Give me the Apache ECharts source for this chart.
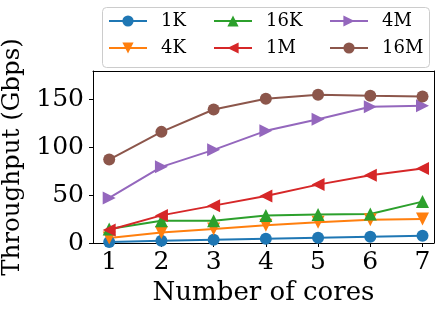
<!DOCTYPE html>
<html><head><meta charset="utf-8">
<script src="https://cdn.jsdelivr.net/npm/echarts@6/dist/echarts.min.js"></script>
<style>html,body{margin:0;padding:0;background:#fff}#c{width:444px;height:312px}</style>
</head><body><div id="c"></div>
<script>
var cores = [1, 2, 3, 4, 5, 6, 7];
var names = ['1K', '4K', '16K', '1M', '4M', '16M'];
var v1K  = [1.0, 2.4, 3.5, 4.5, 5.6, 6.6, 7.7];
var v4K  = [5.2, 11.1, 14.7, 18.5, 21.6, 24.4, 25.1];
var v16K = [14.7, 23.4, 23.4, 28.9, 29.7, 30.4, 43.3];
var v1M  = [13.6, 28.9, 39.1, 49.2, 61.1, 70.9, 77.9];
var v4M  = [47.2, 79.7, 97.5, 117.4, 129.6, 142.5, 143.6];
var v16M = [87.3, 116.3, 139.7, 150.9, 155.1, 154.0, 153.3];
var yTicks = [0, 50, 100, 150];
var xTicks = [1, 2, 3, 4, 5, 6, 7];

var colors = ['#1f77b4', '#ff7f0e', '#2ca02c', '#d62728', '#9467bd', '#8c564b'];
var symbols = ['circle', 'triangle', 'triangle', 'triangle', 'triangle', 'circle'];
var rots = [0, 180, 0, 90, -90, 0];
var vals = [v1K, v4K, v16K, v1M, v4M, v16M];
var font = 'DejaVu Serif';

var series = names.map(function (n, i) {
  return {
    name: n, type: 'line',
    data: cores.map(function (c, j) { return [c, vals[i][j]]; }),
    symbol: symbols[i], symbolRotate: rots[i], symbolSize: symbols[i] === 'circle' ? 12 : 13,
    lineStyle: { color: colors[i], width: 2 },
    itemStyle: { color: colors[i] },
    emphasis: { disabled: true },
    animation: false
  };
});

var legPos = [[108, 12], [108, 39], [213, 12], [213, 39], [329, 12], [329, 39]];
var legends = names.map(function (n, i) {
  return {
    data: [n], left: legPos[i][0], top: legPos[i][1], padding: 0,
    itemWidth: 38, itemHeight: 14, selectedMode: false,
    textStyle: { fontFamily: font, fontSize: 18, color: '#000', padding: [0, 0, 0, 9] }
  };
});

var frameAxisX = {
  type: 'value', position: 'top', min: 0.69, max: 7.22,
  axisLine: { show: true, onZero: false, lineStyle: { color: '#000', width: 1 } },
  axisTick: { show: false }, axisLabel: { show: false }, splitLine: { show: false }
};
var frameAxisY = {
  type: 'value', position: 'right', min: 0, max: 180,
  axisLine: { show: true, onZero: false, lineStyle: { color: '#000', width: 1 } },
  axisTick: { show: false }, axisLabel: { show: false }, splitLine: { show: false }
};

var chart = echarts.init(document.getElementById('c'));
chart.setOption({
  animation: false,
  color: colors,
  graphic: [{
    type: 'rect', left: 102, top: 7,
    shape: { width: 327, height: 60, r: 4 },
    style: { fill: '#fff', stroke: '#cccccc', lineWidth: 1 }, z: -1
  }],
  legend: legends,
  grid: { left: 93, right: 10, top: 71, bottom: 69, containLabel: false, outerBoundsMode: 'none' },
  xAxis: [{
    type: 'value', min: 0.69, max: 7.22,
    name: 'Number of cores', nameLocation: 'middle', nameGap: 36,
    nameTextStyle: { fontFamily: font, fontSize: 26, color: '#000' },
    axisLine: { onZero: false, lineStyle: { color: '#000', width: 1 } },
    axisTick: { show: true, length: 4, customValues: xTicks, lineStyle: { color: '#000' } },
    axisLabel: { customValues: xTicks, fontFamily: font, fontSize: 25, color: '#000', margin: 7 },
    splitLine: { show: false }
  }, frameAxisX],
  yAxis: [{
    type: 'value', min: 0, max: 180,
    name: 'Throughput (Gbps)', nameLocation: 'middle', nameGap: 67,
    nameTextStyle: { fontFamily: font, fontSize: 24.5, color: '#000' },
    axisLine: { show: true, onZero: false, lineStyle: { color: '#000', width: 1 } },
    axisTick: { show: true, length: 4, customValues: yTicks, lineStyle: { color: '#000' } },
    axisLabel: { customValues: yTicks, fontFamily: font, fontSize: 25, color: '#000', margin: 9 },
    splitLine: { show: false }
  }, frameAxisY],
  series: series
});
</script></body></html>
